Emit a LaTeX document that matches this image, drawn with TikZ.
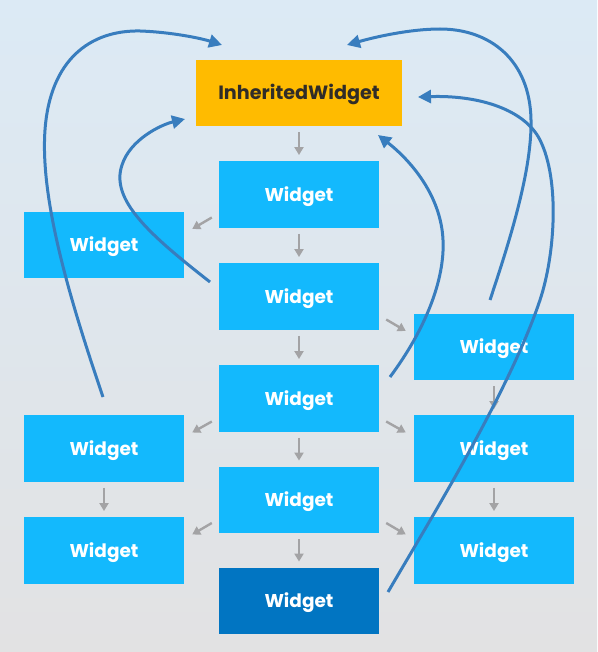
\documentclass[tikz,border=0pt]{standalone}
\usepackage{fontspec}
\setmainfont{Poppins}
\usetikzlibrary{arrows.meta,calc}
\definecolor{bgtop}{RGB}{220,234,245}
\definecolor{bgbot}{RGB}{226,226,227}
\definecolor{wblue}{RGB}{19,185,253}
\definecolor{wdark}{RGB}{1,117,194}
\definecolor{worange}{RGB}{255,187,0}
\definecolor{flowgray}{RGB}{163,163,165}
\definecolor{depblue}{RGB}{56,125,190}
\definecolor{txtdark}{RGB}{48,44,40}
\begin{document}
\begin{tikzpicture}[x=1pt,y=-1pt,
  box/.style={rectangle, minimum width=160pt, minimum height=66.5pt, inner sep=0pt,
    text height=13pt, text depth=0pt,
    fill=wblue, text=white, font=\bfseries\fontsize{18.5}{22}\selectfont},
  flow/.style={draw=flowgray, line width=2.4pt, -{Triangle[length=8pt,width=9pt]}},
  dep/.style={draw=depblue, line width=3pt, -{Triangle[length=13pt,width=13pt]}}]
\useasboundingbox (0,0) rectangle (597,652);
\shade[top color=bgtop, bottom color=bgbot] (0,0) rectangle (597,652);

% nodes
\node[box, fill=worange, text=txtdark, minimum width=206pt,
  font=\bfseries\fontsize{19.2}{22}\selectfont] (IW) at (299,93) {InheritedWidget};
\node[box] (W1) at (299,194.5) {Widget};
\node[box] (W2) at (299,296.5) {Widget};
\node[box] (W3) at (299,398.5) {Widget};
\node[box] (W4) at (299,500) {Widget};
\node[box, fill=wdark] (W5) at (299,601) {Widget};
\node[box] (L1) at (104,245) {Widget};
\node[box] (L2) at (104,448.5) {Widget};
\node[box] (L3) at (104,550.5) {Widget};
\node[box] (R1) at (494,347) {Widget};
\node[box] (R2) at (494,448.5) {Widget};
\node[box] (R3) at (494,550.5) {Widget};

% gray flow arrows
\foreach \a/\b in {IW/W1, W1/W2, W2/W3, W3/W4, W4/W5, L2/L3, R1/R2, R2/R3}
  \draw[flow] ($(\a.south)+(0,6)$) -- ($(\b.north)+(0,-6)$);
\foreach \a/\b in {W1/L1, W3/L2, W4/L3}
  \draw[flow] ($(\a.west)+(-7,23)$) -- ($(\b.east)+(8,-16)$);
\foreach \a/\b in {W2/R1, W3/R2, W4/R3}
  \draw[flow] ($(\a.east)+(7,23)$) -- ($(\b.west)+(-8,-16)$);

% dependency curves
\coordinate (s1) at (103,397);  \coordinate (e1) at (222,45);
\coordinate (s2) at (210,282);  \coordinate (e2) at (185,119);
\coordinate (s3) at (390,377);  \coordinate (e3) at (378,135);
\coordinate (s4) at (490,300);  \coordinate (e4) at (347,45);
\coordinate (s5) at (388,592);  \coordinate (e5) at (418,97);

\draw[dep] (s1) .. controls (70,300) and (40,200) .. (45,130)
  .. controls (50,60) and (90,30) .. (140,31)
  .. controls (170,32) and (200,38) .. (e1);
\draw[dep] (s2) .. controls (150,235) and (110,200) .. (122,165)
  .. controls (130,140) and (160,125) .. (e2);
\draw[dep] (s3) .. controls (425,330) and (445,280) .. (443,240)
  .. controls (441,195) and (410,160) .. (e3);
\draw[dep] (s4) .. controls (510,240) and (532,170) .. (531,120)
  .. controls (530,60) and (490,29) .. (440,29)
  .. controls (410,29) and (375,37) .. (e4);
\draw[dep] (s5) .. controls (430,520) and (510,390) .. (540,300)
  .. controls (555,255) and (560,180) .. (540,140)
  .. controls (525,110) and (480,95) .. (e5);
\end{tikzpicture}
\end{document}
